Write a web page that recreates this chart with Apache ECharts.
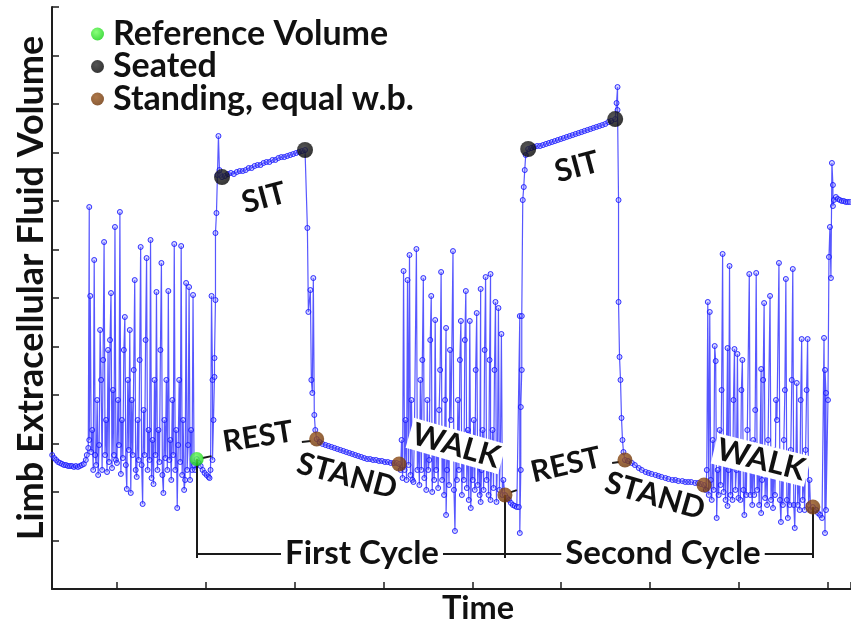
<!DOCTYPE html>
<html><head><meta charset="utf-8">
<script src="https://cdn.jsdelivr.net/npm/echarts/dist/echarts.min.js"></script>
<style>html,body{margin:0;padding:0;background:#fff}#c{width:851px;height:629px}</style>
</head><body><div id="c"></div>
<script>
// ---- data (time in arbitrary units, volume in arbitrary units) ----
const baseline = [[25,138.1],[27,135.0],[29,133.0],[31,130.9],[33,129.9],[35,128.9],[37,127.8],[39,127.8],[41,126.8],[43,126.8],[45,126.8],[47,125.8],[49,126.8],[51,125.8],[53,126.8],[55,127.8],[57,128.9],[59,133.0],[60,138.1]];
const walk1 = [[61.5,145.4],[62.5,393.8],[62.5,153.6],[63.5,302.1],[64.5,141.2],[65.5,163.9],[66.5,122.7],[67.5,339.2],[68.5,138.1],[69.5,127.8],[70.5,194.8],[71.5,117.5],[72.5,148.4],[73.5,267.0],[74.5,215.5],[75.5,122.7],[76.5,236.1],[77.5,357.7],[78.5,138.1],[79.5,174.2],[80.5,120.6],[81.5,246.4],[82.5,130.9],[83.5,256.7],[84.5,305.1],[85.5,124.7],[86.5,205.1],[87.5,138.1],[88.5,373.2],[89.5,133.0],[90.5,129.9],[91.5,194.8],[92.5,148.4],[93.5,388.7],[94.5,118.6],[95.5,174.2],[96.5,135.0],[97.5,246.4],[98.5,280.4],[99.5,127.8],[100.5,103.1],[101.5,215.5],[102.5,143.3],[103.5,267.0],[104.5,99.0],[105.5,194.8],[106.5,138.1],[107.5,225.8],[108.5,318.5],[109.5,122.7],[110.5,115.5],[111.5,174.2],[112.5,133.0],[113.5,236.1],[114.5,352.6],[115.5,127.8],[116.5,87.6],[117.5,184.5],[118.5,138.1],[119.5,256.7],[120.5,341.2],[121.5,122.7],[122.5,163.9],[123.5,133.0],[124.5,359.8],[125.5,114.4],[126.5,153.6],[127.5,108.2],[128.5,215.5],[129.5,138.1],[130.5,306.2],[131.5,122.7],[132.5,163.9],[133.5,130.9],[134.5,246.4],[135.5,336.1],[136.5,117.5],[137.5,99.0],[138.5,174.2],[139.5,135.0],[140.5,215.5],[141.5,122.7],[142.5,307.2],[143.5,133.0],[144.5,153.6],[145.5,112.4],[146.5,194.8],[147.5,138.1],[148.5,355.7],[149.5,122.7],[150.5,163.9],[151.5,83.5],[152.5,148.4],[153.5,215.5],[154.5,130.9],[155.5,353.6],[156.5,117.5],[157.5,174.2],[158.5,102.1],[159.5,112.4],[160.5,315.5],[161.5,122.7],[162.5,148.4],[163.5,311.3],[164.5,112.4],[165.5,163.9],[166.5,122.7],[167.5,303.1],[168.5,127.8],[169.5,122.7]];
const transition1 = [[171.2,134.0],[173.2,129.9],[175.2,126.8],[177.2,122.7],[179.2,119.6],[181.2,117.5],[183.2,115.5],[184.2,114.4],[185.2,122.7],[186.2,302.1],[187.2,215.5],[187.2,133.0],[188.2,174.2],[189.2,218.6],[189.2,238.1],[190.2,297.9],[190.2,367.0],[191.2,387.6],[192.2,426.8],[193.2,467.0],[194.2,431.9],[195.2,426.8]];
const sit1 = [[196.8,424.7],[199.8,425.8],[202.8,427.8],[205.8,428.9],[208.8,427.8],[211.8,429.9],[214.8,430.9],[217.8,430.9],[220.8,431.9],[223.8,434.0],[226.8,434.0],[229.8,436.1],[232.8,437.1],[235.8,437.1],[238.8,439.2],[241.8,440.2],[244.8,440.2],[247.8,442.3],[250.8,442.3],[253.8,444.3],[256.8,445.3],[259.8,445.3],[262.8,446.4],[265.8,447.4],[268.8,448.4],[271.8,449.5],[274.8,450.5],[277.8,451.5],[280.8,452.6]];
const drop1 = [[283.2,372.2],[284.2,285.6],[286.2,308.2],[287.2,215.5],[288.2,202.1],[289.2,320.6],[290.2,179.4],[291.2,163.9]];
const stand1 = [[292.6,154.6],[295.6,151.5],[298.6,149.5],[301.6,148.4],[304.6,147.4],[307.6,146.4],[310.6,145.4],[313.6,144.3],[316.6,143.3],[319.6,142.3],[322.6,141.2],[325.6,140.2],[328.6,139.2],[331.6,138.1],[334.6,137.1],[337.6,136.1],[340.6,135.0],[343.6,134.0],[346.6,134.0],[349.6,133.0],[352.6,133.0],[355.6,132.0],[358.6,132.0],[361.6,130.9],[364.6,130.9],[367.6,129.9],[370.6,129.9],[373.6,129.9],[376.0,128.9]];
const walk2 = [[377.5,122.7],[378.5,153.6],[379.5,114.4],[380.5,327.8],[381.5,122.7],[382.5,174.2],[383.5,112.4],[384.5,318.5],[385.5,127.8],[386.5,344.3],[387.5,117.5],[388.5,194.8],[389.5,112.4],[390.5,110.3],[391.5,163.9],[393.5,350.5],[394.5,122.7],[395.5,153.6],[396.5,107.2],[397.5,215.5],[398.5,122.7],[399.5,236.1],[400.5,320.6],[401.5,114.4],[402.5,163.9],[403.5,102.1],[404.5,194.8],[405.5,122.7],[406.5,133.0],[407.5,256.7],[408.5,302.1],[409.5,100.0],[410.5,153.6],[411.5,112.4],[412.5,277.3],[413.5,122.7],[414.5,163.9],[415.5,104.1],[416.5,184.5],[417.5,225.8],[418.5,326.8],[419.5,112.4],[420.5,153.6],[421.5,96.9],[422.5,194.8],[423.5,269.1],[423.5,76.3],[424.5,122.7],[425.5,153.6],[426.5,107.2],[427.5,246.4],[428.5,174.2],[430.5,348.4],[431.5,102.1],[432.5,59.8],[433.5,143.3],[434.5,112.4],[435.5,194.8],[436.5,122.7],[437.5,236.1],[438.5,276.3],[439.5,96.9],[440.5,153.6],[441.5,112.4],[442.5,256.7],[443.5,307.2],[444.5,104.1],[445.5,163.9],[446.5,91.8],[447.5,276.3],[448.5,83.5],[449.5,133.0],[450.5,112.4],[451.5,174.2],[452.5,102.1],[453.5,225.8],[454.5,284.5],[455.5,107.2],[456.5,153.6],[457.5,96.9],[458.5,309.3],[458.5,89.7],[459.5,122.7],[460.5,163.9],[461.5,102.1],[462.5,246.4],[463.5,321.6],[464.5,112.4],[465.5,143.3],[466.5,96.9],[467.5,236.1],[468.5,324.7],[468.5,91.8],[469.5,122.7],[470.5,163.9],[471.5,104.1],[472.5,225.8],[473.5,295.9],[474.5,89.7],[475.5,133.0],[476.5,289.7],[477.5,102.1],[478.5,143.3],[479.5,262.9],[480.5,96.9],[481.5,112.4]];
const transition2 = [[483.1,96.9],[485.1,93.8],[487.1,91.8],[489.1,88.7],[491.1,86.6],[493.1,85.6],[495.1,84.5],[497.1,84.5],[498.1,281.4],[498.1,57.7],[499.1,122.7],[499.1,187.6],[500.1,225.8],[500.1,281.4],[501.1,401.0],[502.1,414.4],[503.1,431.9],[504.1,447.4]];
const sit2 = [[506.6,453.6],[509.6,454.6],[512.6,455.7],[515.6,456.7],[518.6,456.7],[521.6,457.7],[524.6,458.8],[527.6,459.8],[530.6,460.8],[533.6,461.8],[536.6,462.9],[539.6,463.9],[542.6,464.9],[545.6,466.0],[548.6,467.0],[551.6,468.0],[554.6,469.1],[557.6,470.1],[560.6,471.1],[563.6,472.2],[566.6,473.2],[569.6,474.2],[572.6,475.3],[575.6,476.3],[578.6,477.3],[581.6,478.3],[584.6,479.4],[587.6,481.4],[590.6,482.5],[594.6,484.5]];
const drop2 = [[596.0,501.0],[597.0,517.5],[597.0,493.8],[598.0,401.0],[598.0,295.9],[599.0,239.2],[600.0,215.5],[601.0,176.3],[602.0,153.6],[603.0,141.2]];
const stand2 = [[604.5,133.0],[607.5,132.0],[611.5,129.9],[614.5,127.8],[618.5,124.7],[621.5,122.7],[625.5,120.6],[628.5,119.6],[631.5,118.6],[635.5,117.5],[638.5,116.5],[641.5,115.5],[645.5,114.4],[648.5,113.4],[652.5,112.4],[655.5,112.4],[658.5,111.3],[662.5,111.3],[665.5,110.3],[668.5,110.3],[671.5,110.3],[675.5,109.3],[678.5,109.3],[681.5,108.2],[684.5,107.2]];
const walk3 = [[686.3,102.1],[687.3,122.7],[688.3,295.9],[689.3,96.9],[690.3,285.6],[691.3,112.4],[692.3,91.8],[693.3,153.6],[694.3,102.1],[695.3,250.5],[696.3,235.0],[697.3,73.2],[698.3,122.7],[699.3,96.9],[700.3,163.9],[701.3,107.2],[702.3,205.1],[703.3,345.4],[704.3,100.0],[705.3,133.0],[706.3,91.8],[707.3,153.6],[708.3,248.4],[708.3,85.6],[709.3,122.7],[710.3,333.0],[711.3,96.9],[712.3,143.3],[713.3,91.8],[714.3,194.8],[715.3,247.4],[716.3,102.1],[717.3,122.7],[718.3,242.3],[719.3,93.8],[720.3,133.0],[721.3,91.8],[722.3,205.1],[723.3,236.1],[724.3,102.1],[725.3,76.3],[726.3,133.0],[727.3,96.9],[728.3,163.9],[730.3,324.7],[731.3,96.9],[732.3,122.7],[733.3,86.6],[734.3,153.6],[735.3,96.9],[736.3,184.5],[737.3,325.8],[738.3,102.1],[739.3,133.0],[740.3,86.6],[742.3,226.8],[742.3,78.3],[743.3,112.4],[744.3,215.5],[745.3,294.8],[746.3,93.8],[747.3,133.0],[748.3,86.6],[749.3,153.6],[751.3,302.1],[752.3,91.8],[753.3,122.7],[754.3,83.5],[755.3,143.3],[756.3,96.9],[757.3,194.8],[758.3,174.2],[760.3,336.1],[761.3,91.8],[762.3,69.1],[763.3,122.7],[764.3,86.6],[765.3,153.6],[766.3,205.1],[767.3,319.6],[768.3,91.8],[769.3,73.2],[770.3,122.7],[771.3,86.6],[772.3,143.3],[773.3,215.5],[774.3,329.9],[775.3,86.6],[776.3,62.9],[777.3,112.4],[778.3,212.4],[779.3,86.6],[780.3,122.7],[781.3,81.4],[782.3,194.8],[783.3,257.7],[784.3,91.8],[785.3,122.7],[786.3,81.4],[787.3,143.3],[788.3,205.1],[789.3,257.7],[790.3,86.6],[791.3,112.4],[792.3,81.4]];
const finish = [[794.6,84.5],[797.9,81.4],[799.9,78.3],[801.9,76.3],[803.9,73.2],[805.9,258.8],[806.9,57.7],[806.9,225.8],[807.9,202.1],[807.9,81.4],[809.9,194.8],[810.9,342.3],[811.9,373.2],[812.9,320.6],[813.9,439.2],[814.9,416.5],[814.9,394.8],[815.9,401.0],[817.9,404.1],[819.9,402.1],[821.9,401.0],[823.9,400.0],[825.9,400.0],[827.9,399.0],[829.9,399.0],[831.9,399.0]];

const referenceVolume = [[171.2,134.0]];
const seated = [[196.8,424.7],[280.8,452.6],[506.6,453.6],[594.6,484.5]];
const standingEqualWB = [[292.6,154.6],[376.0,128.9],[483.1,96.9],[604.5,133.0],[684.5,107.2],[794.6,84.5]];
const legendNames = ['Reference Volume','Seated','Standing, equal w.b.'];

// ---- chart ----
const trace = [].concat(baseline, walk1, transition1, sit1, drop1, stand1, walk2, transition2, sit2, drop2, stand2, walk3, finish);
const ref = referenceVolume[0], st = standingEqualWB;
const footV = 32.0, levelV = 36.1;
const bracketSegs = [
  [[ref[0], ref[1]], [ref[0], footV]],
  [[ref[0], levelV], [st[5][0], levelV]],
  [[st[2][0], st[2][1]], [st[2][0], footV]],
  [[st[5][0], st[5][1]], [st[5][0], footV]],
  [[ref[0] + 6, ref[1] + 1], [ref[0] + 15, ref[1] + 3]],
  [[st[0][0] - 15, st[0][1] - 3], [st[0][0] - 6, st[0][1] - 2]],
  [[st[2][0] + 6, st[2][1] + 3], [st[2][0] + 12, st[2][1] + 5]],
  [[st[3][0] - 13, st[3][1] - 3], [st[3][0] - 6, st[3][1] - 2]]
];
function lbl(text, size, x, y, deg, extra) {
  return Object.assign({type:'text', x:x, y:y, z:50, rotation: deg*Math.PI/180,
    style: Object.assign({text:text, font:'bold ' + size + 'px Lato', fill:'#111', align:'center', verticalAlign:'middle'}, extra||{})});
}
function dot(c0, c1) {
  return {type:'radial', x:0.4, y:0.35, r:0.7, colorStops:[{offset:0,color:c0},{offset:1,color:c1}]};
}
const chart = echarts.init(document.getElementById('c'), null, {renderer:'canvas'});
chart.setOption({
  animation:false,
  backgroundColor:'#fff',
  grid:{left:52, right:-2, top:7, bottom:40},
  legend:{data:legendNames, orient:'vertical', left:86, top:12, itemGap:-1.5, icon:'circle', itemWidth:13, itemHeight:13,
    textStyle:{fontFamily:'Lato', fontWeight:'bold', fontSize:34, lineHeight:30, color:'#111', padding:[0,0,0,4]}},
  xAxis:{type:'value', min:24.8, max:833.2, minInterval:90, maxInterval:90,
    axisLine:{lineStyle:{color:'#1e1e1e', width:2}},
    axisTick:{inside:true, length:7, lineStyle:{color:'#1e1e1e', width:1.5}},
    axisLabel:{show:false}, splitLine:{show:false}},
  yAxis:{type:'value', min:0, max:600, interval:50,
    axisLine:{show:true, lineStyle:{color:'#1e1e1e', width:2}},
    axisTick:{show:true, inside:true, length:7, lineStyle:{color:'#1e1e1e', width:1.5}},
    axisLabel:{show:false}, splitLine:{show:false}},
  series:[
    {type:'line', name:'ECF volume', data:trace, z:2, symbol:'circle', symbolSize:5, showAllSymbol:true,
      lineStyle:{color:'#1010ff', width:1.2, opacity:0.7},
      itemStyle:{color:'rgba(140,140,255,0.35)', borderColor:'rgba(20,20,255,0.85)', borderWidth:1}},
    {type:'lines', coordinateSystem:'cartesian2d', z:3, silent:true,
      data: bracketSegs.map(c => ({coords:c})),
      lineStyle:{color:'#1a1a1a', width:2, opacity:1, curveness:0}},
    {type:'scatter', name:legendNames[0], data:referenceVolume, symbolSize:14, z:5, itemStyle:{color:dot('#6dff5a','#10d010')}},
    {type:'scatter', name:legendNames[1], data:seated, symbolSize:16, z:5, itemStyle:{color:dot('#2a2a2a','#000')}},
    {type:'scatter', name:legendNames[2], data:standingEqualWB, symbolSize:15, z:5, itemStyle:{color:dot('#9a561c','#6a3104')}}
  ],
  graphic:[
    lbl('Limb Extracellular Fluid Volume', 36, 31, 288, 90),
    lbl('Time', 32.5, 478, 609, 0),
    lbl('SIT', 31, 264, 198, 15),
    lbl('SIT', 31, 577, 167, 15),
    lbl('REST', 30, 258, 437, 9),
    lbl('REST', 30, 566, 465, 13),
    lbl('STAND', 31, 347, 476, -15),
    lbl('STAND', 31, 655, 496, -16),
    lbl('WALK', 31, 456, 446, -16, {backgroundColor:'#fff', padding:[0,3]}),
    lbl('WALK', 31, 761, 460, -14, {backgroundColor:'#fff', padding:[0,3]}),
    lbl('First Cycle', 33, 362, 553, 0, {backgroundColor:'#fff', padding:[0,4]}),
    lbl('Second Cycle', 33, 663, 553, 0, {backgroundColor:'#fff', padding:[0,4]})
  ]
});
</script></body></html>
